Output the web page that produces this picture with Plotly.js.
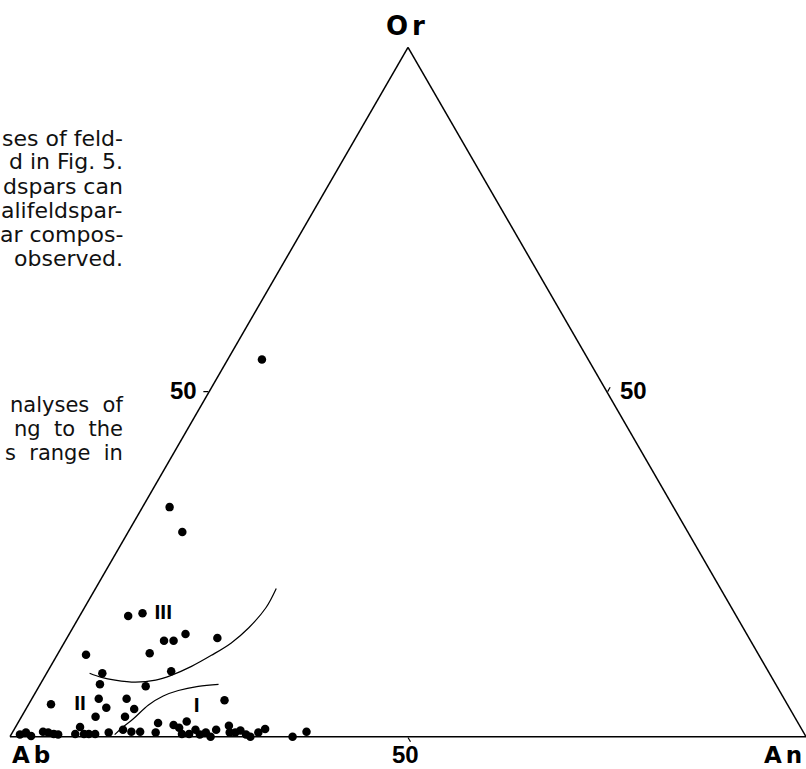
<!DOCTYPE html>
<html>
<head>
<meta charset="utf-8">
<script src="https://cdn.plot.ly/plotly-3.0.1.min.js"></script>
<style>html,body{margin:0;padding:0;background:#fff;}#chart{width:806px;height:769px;}</style>
</head>
<body>
<div id="chart"></div>
<script>
// Feldspar analyses (mol %): Or, Ab, An
const orPts = [54.7, 33.3, 29.7, 17.5, 17.9, 13.9, 13.9, 14.9, 14.3, 11.9, 12.1, 9.2, 9.5, 7.6, 7.3, 4.7, 5.5, 5.5, 4.2, 4.0, 2.9, 2.9, 5.3, 0.3, 0.6, 0.1, 0.7, 0.6, 0.4, 0.3, 0.4, 1.4, 0.4, 0.4, 0.4, 0.6, 1.0, 0.7, 0.7, 0.6, 2.0, 1.7, 1.3, 2.2, 0.4, 0.4, 1.0, 0.3, 0.6, 0.0, 1.0, 1.6, 0.6, 0.6, 0.9, 0.3, 0.0, 0.6, 1.1, 0.0, 0.7];
const abPts = [41.0, 63.3, 63.5, 76.4, 74.4, 73.7, 72.5, 70.5, 66.8, 84.5, 76.4, 83.8, 75.0, 84.9, 79.3, 92.5, 86.1, 82.6, 85.8, 82.4, 87.8, 84.1, 70.4, 98.6, 97.7, 97.3, 95.5, 94.9, 94.3, 93.8, 91.6, 90.5, 90.5, 89.9, 89.1, 87.3, 85.3, 84.4, 83.3, 81.4, 80.4, 78.6, 78.1, 76.7, 78.2, 77.3, 76.2, 76.0, 75.1, 74.8, 73.6, 71.7, 72.1, 71.4, 70.6, 70.2, 69.8, 68.5, 67.4, 64.5, 62.4];
const anPts = [4.3, 3.4, 6.8, 6.1, 7.7, 12.4, 13.6, 14.6, 18.9, 3.6, 11.5, 7.0, 15.5, 7.5, 13.4, 2.8, 8.4, 11.9, 10.0, 13.6, 9.3, 13.0, 24.3, 1.1, 1.7, 2.6, 3.8, 4.5, 5.3, 5.9, 8.0, 8.1, 9.1, 9.7, 10.5, 12.1, 13.7, 14.9, 16.0, 18.0, 17.6, 19.7, 20.6, 21.1, 21.4, 22.3, 22.8, 23.7, 24.3, 25.2, 25.4, 26.7, 27.3, 28.0, 28.5, 29.5, 30.2, 30.9, 31.5, 35.5, 36.9];

// Field boundaries
const upperOr = [9.2, 8.6, 8.2, 7.9, 8.2, 8.9, 10.2, 11.8, 13.6, 15.8, 18.7, 21.5];
const upperAb = [85.4, 84.2, 82.7, 80.3, 77.6, 75.3, 72.1, 68.8, 65.4, 62.1, 58.5, 55.8];
const upperAn = [5.4, 7.2, 9.1, 11.8, 14.2, 15.8, 17.7, 19.4, 21.0, 22.1, 22.8, 22.7];
const lowerOr = [0.3, 1.4, 2.6, 4.6, 5.9, 6.7, 7.3, 7.6];
const lowerAb = [86.7, 85.1, 83.2, 80.3, 77.8, 75.5, 72.7, 70.0];
const lowerAn = [13.0, 13.5, 14.2, 15.1, 16.3, 17.8, 20.0, 22.4];

// Field labels
const fieldText = ['III', 'II', 'I'];
const fieldOr = [17.9, 4.6, 4.3];
const fieldAb = [71.8, 88.9, 74.4];
const fieldAn = [10.3, 6.5, 21.3];

// Axis ticks and vertex names
const tickVals = [50];
const tickText = ['50'];
const vertexNames = ['Or', 'Ab', 'An'];

// Page text fragments (cut-off column at left)
const textBlock1 = ['ses of feld-', 'd in Fig. 5.', 'dspars can', 'alifeldspar-', 'ar compos-', 'observed.'];
const textBlock2 = ['nalyses  of', 'ng  to  the', 's  range  in'];

const M = {l: 10, r: 0, t: 47, b: 32};
const PW = 806 - M.l - M.r, PH = 769 - M.t - M.b;
const px = x => (x - M.l) / PW;
const py = y => (769 - M.b - y) / PH;

const traces = [
  {type: 'scatterternary', mode: 'lines', a: upperOr, b: upperAb, c: upperAn,
   line: {color: '#000', width: 1.2, shape: 'spline'}, cliponaxis: false, hoverinfo: 'skip'},
  {type: 'scatterternary', mode: 'lines', a: lowerOr, b: lowerAb, c: lowerAn,
   line: {color: '#000', width: 1.2, shape: 'spline'}, cliponaxis: false, hoverinfo: 'skip'},
  {type: 'scatterternary', mode: 'markers', a: orPts, b: abPts, c: anPts,
   marker: {color: '#000', size: 8.5, line: {width: 0}}, cliponaxis: false},
  {type: 'scatterternary', mode: 'text', a: fieldOr, b: fieldAb, c: fieldAn, text: fieldText,
   textfont: {family: 'Liberation Sans', size: 21, color: '#000', weight: 'bold'}, cliponaxis: false}
];

const axisStyle = {
  title: {text: ''},
  tickmode: 'array', tickvals: tickVals, ticktext: tickText,
  ticks: 'outside', ticklen: 5, tickwidth: 1.2, tickcolor: '#000',
  showticklabels: false,
  showgrid: false, showline: true, linecolor: '#000', linewidth: 1.5, min: 0
};

const annotations = [];
const paper = {xref: 'paper', yref: 'paper', showarrow: false, borderpad: 0};
// vertex names
const vfont = {family: 'DejaVu Sans', size: 26, color: '#000', weight: 'bold'};
const spaced = t => '<span style="letter-spacing:4px">' + t + '</span>';
annotations.push(Object.assign({text: spaced(vertexNames[0]), x: px(407), y: py(26), xanchor: 'center', yanchor: 'middle', font: vfont}, paper));
annotations.push(Object.assign({text: spaced(vertexNames[1]), x: px(11), y: py(769), xanchor: 'left', yanchor: 'bottom', font: Object.assign({}, vfont, {size: 23})}, paper));
annotations.push(Object.assign({text: spaced(vertexNames[2]), x: px(763), y: py(769), xanchor: 'left', yanchor: 'bottom', font: Object.assign({}, vfont, {size: 23})}, paper));
// "50" tick labels on each side
const kfont = {family: 'Liberation Sans', size: 24, color: '#000', weight: 'bold'};
annotations.push(Object.assign({text: tickText[0], x: px(198), y: py(390), xanchor: 'right', yanchor: 'middle', font: kfont}, paper));
annotations.push(Object.assign({text: tickText[0], x: px(405), y: py(754), xanchor: 'center', yanchor: 'middle', font: kfont}, paper));
annotations.push(Object.assign({text: tickText[0], x: px(619), y: py(390), xanchor: 'left', yanchor: 'middle', font: kfont}, paper));

const tfont = {family: 'DejaVu Sans', size: 22, color: '#111'};
const tfont2 = {family: 'DejaVu Sans', size: 21, color: '#111'};
textBlock1.forEach((t, i) => annotations.push(Object.assign({text: t, x: px(124), y: py(138 + i * 24), xanchor: 'right', yanchor: 'middle', font: tfont}, paper)));
textBlock2.forEach((t, i) => annotations.push(Object.assign({text: t, x: px(124), y: py(405 + i * 24), xanchor: 'right', yanchor: 'middle', font: tfont2}, paper)));

const layout = {
  width: 806, height: 769,
  margin: M,
  paper_bgcolor: '#fff',
  showlegend: false,
  ternary: {
    sum: 100,
    bgcolor: '#fff',
    domain: {x: [0, 1], y: [0, 1]},
    aaxis: Object.assign({}, axisStyle),
    baxis: Object.assign({}, axisStyle),
    caxis: Object.assign({}, axisStyle)
  },
  annotations: annotations
};

Plotly.newPlot('chart', traces, layout, {displayModeBar: false, staticPlot: true});
</script>
</body>
</html>
